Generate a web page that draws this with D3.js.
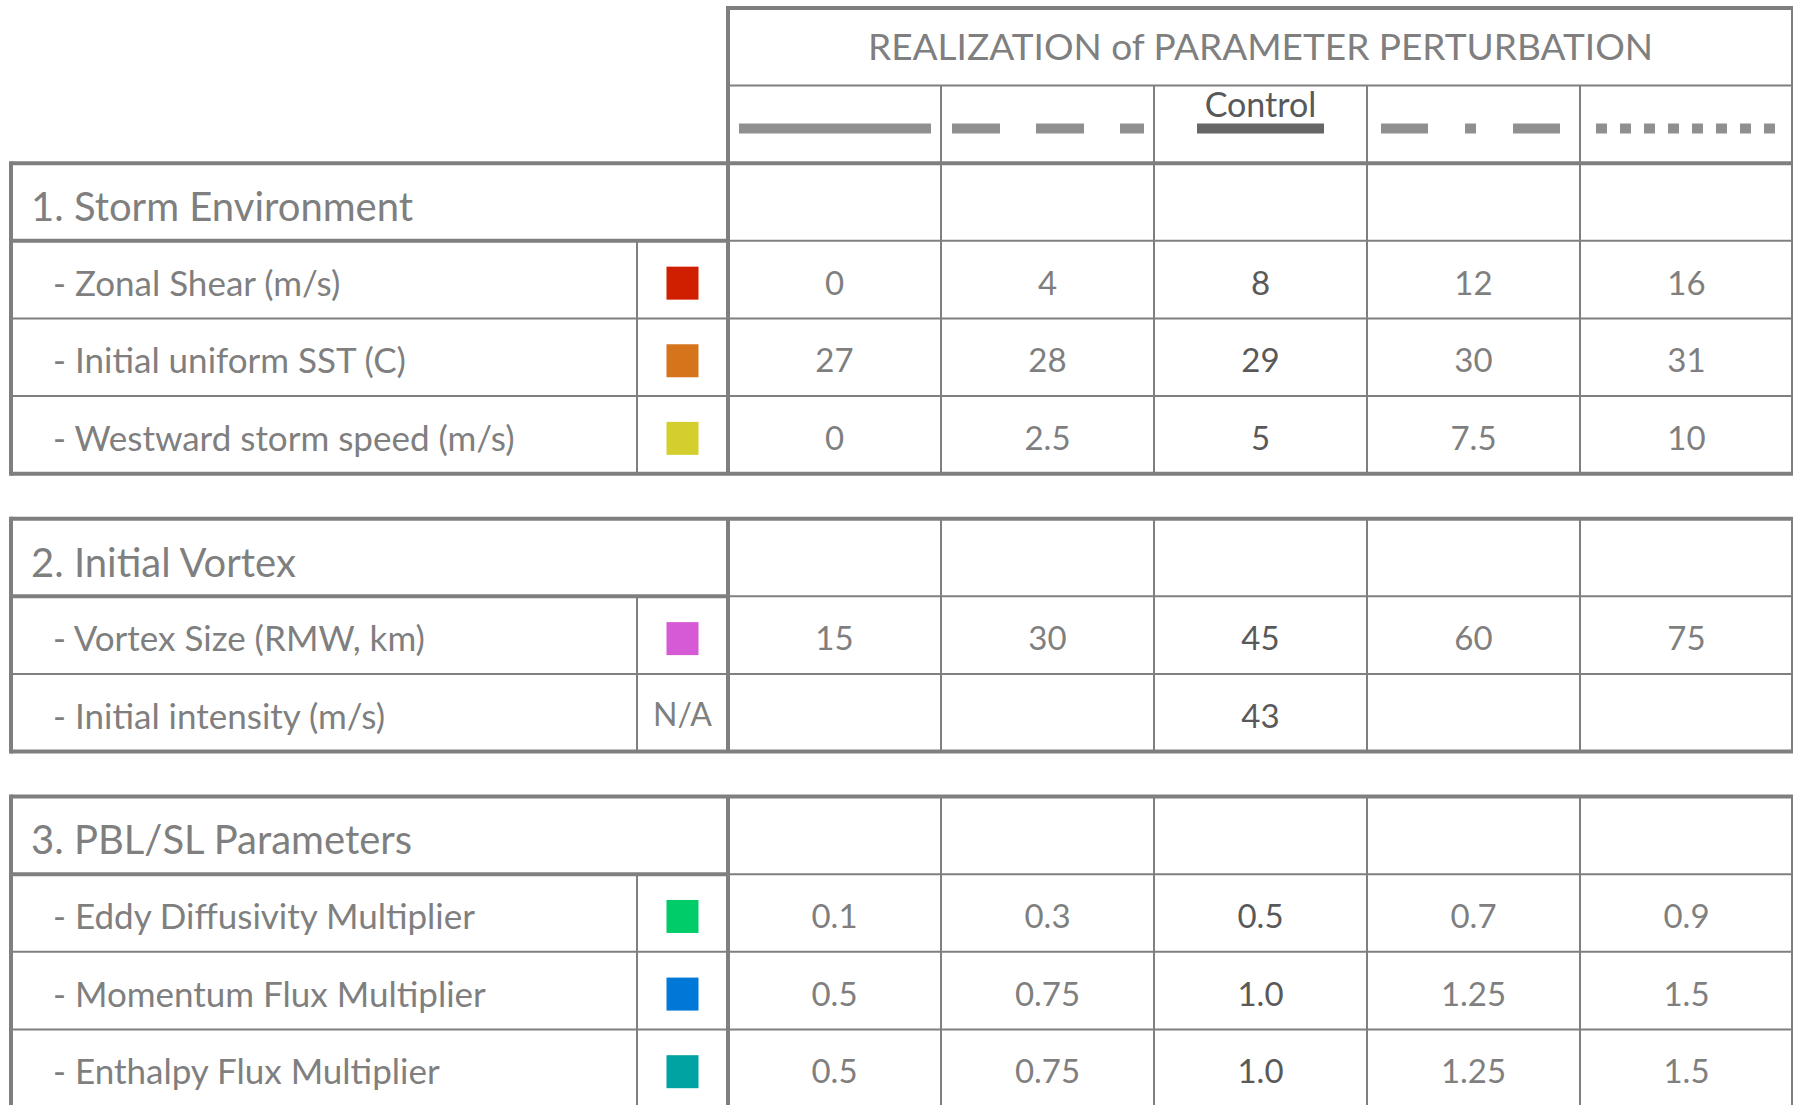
<!DOCTYPE html>
<html lang="en">
<head>
<meta charset="UTF-8">
<title>Parameter perturbation</title>
<script src="https://cdn.jsdelivr.net/npm/d3@7"></script>
<style>
  body { margin: 0; background: #fff; overflow: hidden; }
  svg text { font-family: Lato, "Open Sans", sans-serif; }
</style>
</head>
<body>
<script>

    // ---- data ----
    var headerTitle = "REALIZATION of PARAMETER PERTURBATION";
    var realizations = ["r1", "r2", "Control", "r4", "r5"];
    var controlIndex = 2;
    var sections = ["1. Storm Environment", "2. Initial Vortex", "3. PBL/SL Parameters"];
    var params = [
        "- Zonal Shear (m/s)",
        "- Initial uniform SST (C)",
        "- Westward storm speed (m/s)",
        "- Vortex Size (RMW, km)",
        "- Initial intensity (m/s)",
        "- Eddy Diffusivity Multiplier",
        "- Momentum Flux Multiplier",
        "- Enthalpy Flux Multiplier"
    ];
    var paramSection = [0, 0, 0, 1, 1, 2, 2, 2];
    var paramColors = ["#d01f00", "#d6741c", "#d4cf2e", "#d65ad5", null, "#00cc6a", "#0078d7", "#00a2a2"];
    var paramValues = [
        ["0", "4", "8", "12", "16"],
        ["27", "28", "29", "30", "31"],
        ["0", "2.5", "5", "7.5", "10"],
        ["15", "30", "45", "60", "75"],
        ["", "", "43", "", ""],
        ["0.1", "0.3", "0.5", "0.7", "0.9"],
        ["0.5", "0.75", "1.0", "1.25", "1.5"],
        ["0.5", "0.75", "1.0", "1.25", "1.5"]
    ];

    // ---- styles ----
    var grey = "#7f7f7f", dark = "#595959";
    var thick = 4, thin = 2;
    var dashes = [null, "48,36", null, "47,37,11,37", "11,13"];
    var lineInset = [[11, 10], [11, 10], [43, 43], [14, 19], [16, 18]];
    var gapUnits = 0.58;

    var width = 1793, height = 1105;
    var xLeft = 11, xSwatch = 637, xValues = 728, xRight = 1793;

    // build the row layout in "row units"
    var rows = [];
    var u = 2;
    sections.forEach(function (s, si) {
        if (si > 0) u += gapUnits;
        var start = u;
        rows.push({type: "section", text: s, u0: u, u1: u + 1, si: si});
        u += 1;
        params.forEach(function (p, pi) {
            if (paramSection[pi] !== si) return;
            rows.push({type: "param", text: p, u0: u, u1: u + 1, pi: pi, si: si});
            u += 1;
        });
        rows.filter(function (r) { return r.si === si; }).forEach(function (r) {
            r.s0 = start; r.s1 = u;
        });
    });

    var y = d3.scaleLinear().domain([0, u]).range([8, 1107]);
    var x = d3.scaleBand().domain(d3.range(realizations.length)).range([xValues, xRight]);

    var svg = d3.select("body").append("svg")
        .attr("width", width)
        .attr("height", height);

    function line(g, x1, y1, x2, y2, w, col) {
        g.append("line")
            .attr("x1", x1).attr("y1", y1).attr("x2", x2).attr("y2", y2)
            .attr("stroke", col || grey)
            .attr("stroke-width", w);
    }

    var grid = svg.append("g");

    // ---- header box ----
    line(grid, xValues, y(1), xRight, y(1), thin);
    d3.range(1, realizations.length).forEach(function (i) {
        line(grid, x(i), y(1), x(i), y(2), thin);
    });
    line(grid, xValues - thick / 2, y(0), xRight, y(0), thick);
    line(grid, xValues, y(0), xValues, y(2), thick);
    line(grid, xRight, y(0), xRight, y(2), thick);

    svg.append("text")
        .attr("x", xValues + (xRight - xValues) / 2)
        .attr("y", (y(0) + y(1)) / 2 + 13)
        .attr("text-anchor", "middle")
        .attr("font-size", 37)
        .attr("fill", grey)
        .text(headerTitle);

    // line-style keys
    svg.append("g").selectAll("line")
        .data(realizations)
        .join("line")
        .attr("x1", function (d, i) { return x(i) + lineInset[i][0]; })
        .attr("x2", function (d, i) { return x(i) + x.bandwidth() - lineInset[i][1]; })
        .attr("y1", (y(1) + y(2)) / 2 + 4)
        .attr("y2", (y(1) + y(2)) / 2 + 4)
        .attr("stroke", function (d, i) { return i === controlIndex ? "#666" : "#8f8f8f"; })
        .attr("stroke-width", 10)
        .attr("stroke-dasharray", function (d, i) { return dashes[i]; });

    svg.append("text")
        .attr("x", x(controlIndex) + x.bandwidth() / 2)
        .attr("y", 117)
        .attr("text-anchor", "middle")
        .attr("font-size", 34)
        .attr("fill", dark)
        .text(realizations[controlIndex]);

    // ---- sections ----
    rows.forEach(function (r) {
        var y0 = y(r.u0), y1 = y(r.u1), cy = (y0 + y1) / 2;
        if (r.type === "section") {
            svg.append("text")
                .attr("x", 31).attr("y", cy + 19)
                .attr("font-size", 40)
                .attr("fill", grey)
                .text(r.text);
            line(grid, xLeft, y1, xValues, y1, thick);
            line(grid, xValues, y1, xRight, y1, thin);
        } else {
            svg.append("text")
                .attr("x", 53).attr("y", cy + 16)
                .attr("font-size", 35)
                .attr("fill", grey)
                .text(r.text);
            if (r.u1 < r.s1) line(grid, xLeft, y1, xRight, y1, thin);
            var c = paramColors[r.pi];
            if (c) {
                svg.append("rect")
                    .attr("x", (xSwatch + xValues) / 2 - 16)
                    .attr("y", cy - 13)
                    .attr("width", 32).attr("height", 33)
                    .attr("fill", c);
            } else {
                svg.append("text")
                    .attr("x", (xSwatch + xValues) / 2)
                    .attr("y", cy + 13)
                    .attr("text-anchor", "middle")
                    .attr("font-size", 32)
                    .attr("fill", grey)
                    .text("N/A");
            }
            svg.append("g").selectAll("text")
                .data(paramValues[r.pi])
                .join("text")
                .attr("x", function (d, i) { return x(i) + x.bandwidth() / 2; })
                .attr("y", cy + 15)
                .attr("text-anchor", "middle")
                .attr("font-size", 33)
                .attr("fill", function (d, i) { return i === controlIndex ? dark : grey; })
                .text(function (d) { return d; });
        }
    });

    // section frames
    sections.forEach(function (s, si) {
        var r = rows.filter(function (d) { return d.si === si; });
        var top = y(r[0].s0), bot = y(r[0].s1), headBot = y(r[0].u1);
        line(grid, xSwatch, headBot, xSwatch, bot, thin);
        d3.range(1, realizations.length).forEach(function (i) {
            line(grid, x(i), top, x(i), bot, thin);
        });
        line(grid, xLeft, top - thick / 2, xLeft, bot + thick / 2, thick);
        line(grid, xValues, top, xValues, bot, thick);
        line(grid, xRight, top, xRight, bot, thick);
        line(grid, xLeft, top, xRight, top, thick);
        line(grid, xLeft, bot, xRight, bot, thick);
    });

</script>
</body>
</html>
